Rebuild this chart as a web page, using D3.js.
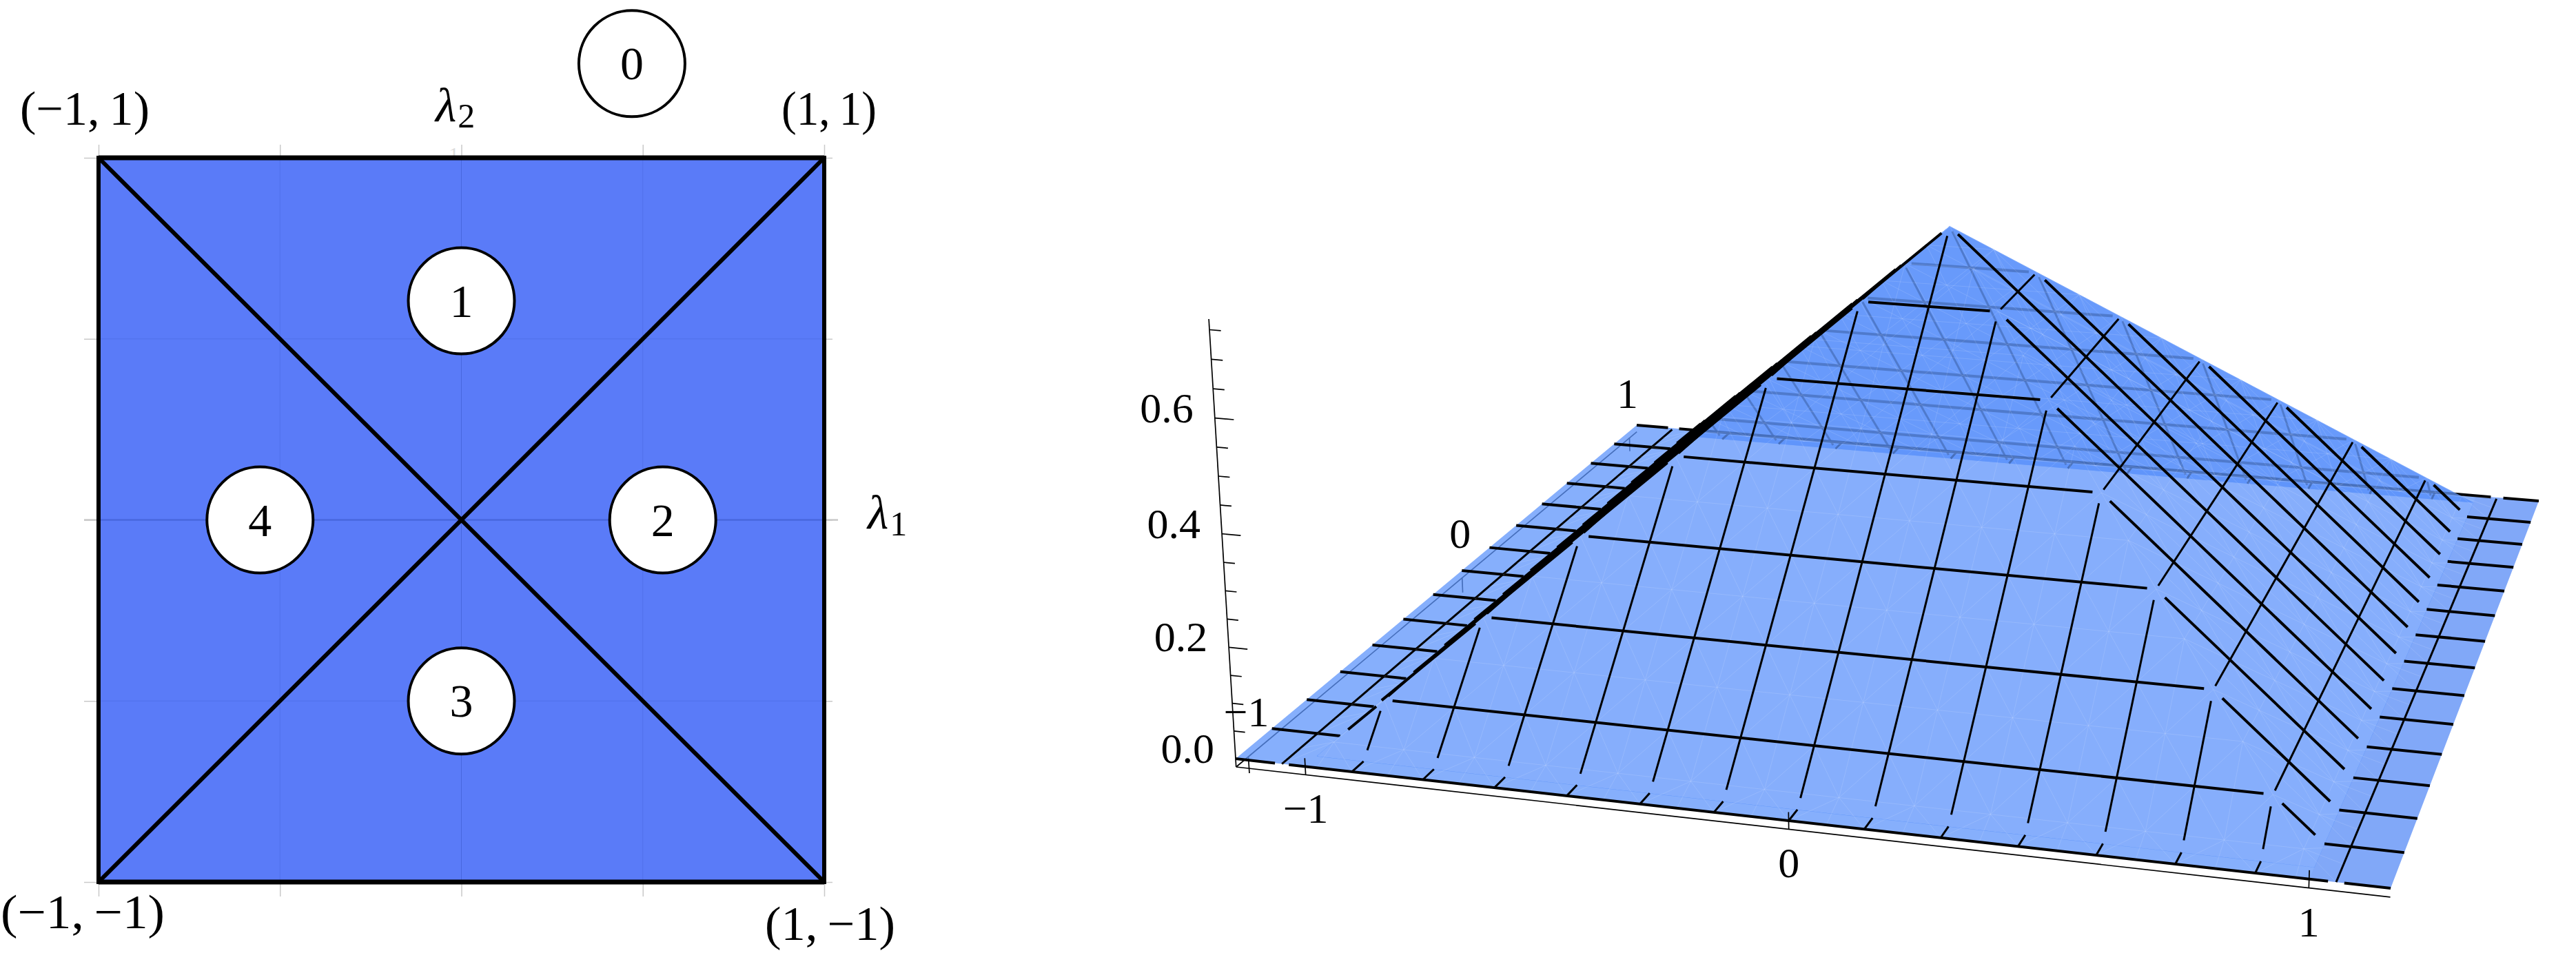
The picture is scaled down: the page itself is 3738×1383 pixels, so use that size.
<!DOCTYPE html>
<html>
<head>
<meta charset="utf-8">
<script src="https://cdn.jsdelivr.net/npm/d3@7"></script>
<style>
    body { margin: 0; background: white; }
    text { font-family: "Liberation Serif", serif; fill: black; }
</style>
</head>
<body>
<div id="chart"></div>
<script>
const width = 3738;
const height = 1383;

// left panel: regions of the square
const lambdaTicks = [-1, -0.5, 0, 0.5, 1];
const cornerL1 = [-1, 1, 1, -1];
const cornerL2 = [1, 1, -1, -1];
const regionIds = ["0", "1", "2", "3", "4"];
const regionL1 = [0.47, 0, 0.555, 0, -0.555];
const regionL2 = [1.26, 0.605, 0, -0.5, 0];

// right panel: surface
const meshValues = [-1.05, -0.9, -0.75, -0.6, -0.45, -0.3, -0.15, 0, 0.15, 0.3, 0.45, 0.6, 0.75, 0.9, 1.05];
const profileDistance = [0, 1, 1.15];
const profileHeight = [0.75, 0, 0];
const zTicks = [0, 0.05, 0.1, 0.15, 0.2, 0.25, 0.3, 0.35, 0.4, 0.45, 0.5, 0.55, 0.6, 0.65, 0.7, 0.75];
const zLabels = [0, 0.2, 0.4, 0.6];
const planTicks = [-1, 0, 1];

const svg = d3.select("#chart")
    .append("svg")
    .attr("width", width)
    .attr("height", height)
    .style("display", "block");

drawSquare();
drawSurface();

function drawSquare() {
    const x = d3.scaleLinear().domain([-1, 1]).range([143, 1196]);
    const y = d3.scaleLinear().domain([-1, 1]).range([1280, 229]);
    const g = svg.append("g");
    const tickColor = "#c9c9c9";

    g.append("text").attr("x", 651).attr("y", 234)
        .style("font-size", "30px").style("fill", "#dddddd").text("1");

    // ticks through the library axes
    const axes = [
        [d3.axisTop(x).tickSize(19), [0, y(1)]],
        [d3.axisBottom(x).tickSize(21), [0, y(-1)]],
        [d3.axisLeft(y).tickSize(21), [x(-1), 0]],
        [d3.axisRight(y).tickSize(12), [x(1), 0]]
    ];
    axes.forEach(a => {
        const ax = g.append("g")
            .attr("transform", "translate(" + a[1] + ")")
            .call(a[0].tickValues(lambdaTicks).tickFormat(""));
        ax.select(".domain").remove();
        ax.selectAll("line").attr("stroke", tickColor).attr("stroke-width", 1.5);
    });
    g.append("line").attr("x1", x(1)).attr("x2", x(1) + 20).attr("y1", y(0)).attr("y2", y(0))
        .attr("stroke", tickColor).attr("stroke-width", 2.5);
    g.append("line").attr("x1", x(-1) - 21).attr("x2", x(-1)).attr("y1", y(0)).attr("y2", y(0))
        .attr("stroke", tickColor).attr("stroke-width", 2.5);

    const corners = cornerL1.map((d, i) => [x(d), y(cornerL2[i])]);
    g.append("path")
        .attr("d", "M" + corners.join("L") + "Z")
        .attr("fill", "#5a7bf8");

    lambdaTicks.forEach(v => {
        const w = v === 0 ? "rgba(50,80,190,0.45)" : "rgba(50,80,190,0.22)";
        g.append("line").attr("x1", x(v)).attr("x2", x(v)).attr("y1", y(-1)).attr("y2", y(1))
            .attr("stroke", w).attr("stroke-width", 1);
        g.append("line").attr("x1", x(-1)).attr("x2", x(1)).attr("y1", y(v)).attr("y2", y(v))
            .attr("stroke", w).attr("stroke-width", v === 0 ? 2.5 : 1);
    });

    g.append("path")
        .attr("d", "M" + corners.join("L") + "Z")
        .attr("fill", "none").attr("stroke", "black").attr("stroke-width", 6);
    g.append("line").attr("x1", x(-1)).attr("x2", x(1)).attr("y1", y(1)).attr("y2", y(1))
        .attr("stroke", "black").attr("stroke-width", 7);
    g.append("line").attr("x1", x(-1)).attr("x2", x(1)).attr("y1", y(-1)).attr("y2", y(-1))
        .attr("stroke", "black").attr("stroke-width", 7);
    [[0, 2], [1, 3]].forEach(p => {
        g.append("line")
            .attr("x1", corners[p[0]][0]).attr("y1", corners[p[0]][1])
            .attr("x2", corners[p[1]][0]).attr("y2", corners[p[1]][1])
            .attr("stroke", "black").attr("stroke-width", 6);
    });

    regionIds.forEach((id, i) => {
        const cx = x(regionL1[i]);
        const cy = y(regionL2[i]);
        g.append("circle").attr("cx", cx).attr("cy", cy).attr("r", 77)
            .attr("fill", "white").attr("stroke", "black").attr("stroke-width", 4);
        g.append("text").attr("x", cx).attr("y", cy + 23)
            .attr("text-anchor", "middle").style("font-size", "68px").text(id);
    });

    // corner labels, stretched to the width of the math font
    const labels = [
        ["(\u22121,\u20091)", 29, 181, 188],
        ["(1,\u20091)", 1134, 181, 138],
        ["(\u22121,\u2009\u22121)", 1, 1347, 238],
        ["(1,\u2009\u22121)", 1110, 1364, 189]
    ];
    labels.forEach(l => {
        g.append("text").attr("x", l[1]).attr("y", l[2])
            .attr("textLength", l[3]).attr("lengthAdjust", "spacingAndGlyphs")
            .style("font-size", "70px").text(l[0]);
    });

    [["2", 632, 176, 185], ["1", 1259, 767, 777]].forEach(l => {
        const t = g.append("text").attr("x", l[1]).attr("y", l[2]).style("font-size", "70px");
        t.append("tspan").style("font-style", "italic").text("\u03bb");
        t.append("tspan").attr("dy", l[3] - l[2]).attr("dx", 2).style("font-size", "50px").text(l[0]);
    });
}

function fitHomography(A, B, C, D) {
    // unit square -> screen quad
    const dx1 = B[0] - C[0], dx2 = D[0] - C[0], sx = A[0] - B[0] + C[0] - D[0];
    const dy1 = B[1] - C[1], dy2 = D[1] - C[1], sy = A[1] - B[1] + C[1] - D[1];
    const det = dx1 * dy2 - dx2 * dy1;
    const g = (sx * dy2 - dx2 * sy) / det;
    const h = (dx1 * sy - sx * dy1) / det;
    return {
        a: B[0] - A[0] + g * B[0], b: D[0] - A[0] + h * D[0], c: A[0],
        d: B[1] - A[1] + g * B[1], e: D[1] - A[1] + h * D[1], f: A[1],
        g: g, h: h
    };
}

function drawSurface() {
    const xLimit = 1.15, yLimit = 1.05, axisZ = -0.015;
    const H = fitHomography([1793, 1101], [3469, 1289], [3684, 727], [2375, 617]);
    const zPull = -0.0471, zVanish = [2830, 18100];
    const sScale = d3.scaleLinear().domain([-xLimit, xLimit]).range([0, 1]);
    const tScale = d3.scaleLinear().domain([-yLimit, yLimit]).range([0, 1]);
    const heightAt = d3.scaleLinear().domain(profileDistance).range(profileHeight);
    const surf = (x, y) => heightAt(Math.max(Math.abs(x), Math.abs(y)));

    const project = (x, y, z) => {
        const s = sScale(x), t = tScale(y), q = z * zPull;
        const w = H.g * s + H.h * t + 1 + q;
        return [(H.a * s + H.b * t + H.c + q * zVanish[0]) / w,
                (H.d * s + H.e * t + H.f + q * zVanish[1]) / w];
    };
    const onSurf = p => project(p[0], p[1], surf(p[0], p[1]));
    const line = d3.line();

    const bottom = svg.append("g");
    const layerBack = svg.append("g");
    const layerBackLines = svg.append("g");
    const layerFront = svg.append("g");
    const layerTexture = svg.append("g");
    const layerLines = svg.append("g");
    const overlay = svg.append("g");

    const thin = (g, a, b) => g.append("path").attr("d", line([a, b]))
        .attr("stroke", "black").attr("stroke-width", 1.7).attr("fill", "none");

    // plan axes in the plane just below z = 0
    thin(bottom, project(-xLimit, -yLimit, axisZ), project(-xLimit, yLimit, axisZ));
    planTicks.forEach(v => {
        thin(bottom, project(-xLimit, v, axisZ), project(-xLimit, v, axisZ - 0.03));
    });
    thin(overlay, project(-xLimit, -yLimit, axisZ), project(xLimit, -yLimit, axisZ));
    planTicks.forEach(v => {
        thin(overlay, project(v, -yLimit, axisZ), project(v, -yLimit, axisZ + 0.03));
    });

    // height axis
    thin(overlay, project(-xLimit, -yLimit, axisZ), project(-xLimit, -yLimit, 0.768));
    zTicks.forEach(z => {
        const len = zLabels.indexOf(z) >= 0 ? 0.04 : 0.024;
        thin(overlay, project(-xLimit, -yLimit, z), project(-xLimit + len, -yLimit, z));
    });

    const polyD = pts => "M" + pts.join("L") + "Z";
    const surfaceColor = "#5e94fb";
    const quad = (x0, y0, x1, y1) => [[x0, y0], [x1, y0], [x1, y1], [x0, y1]];

    // flat ring and the hidden faces
    layerBack.append("path")
        .attr("d", polyD(quad(-xLimit, -yLimit, xLimit, yLimit).map(onSurf)) + polyD(quad(-1, -1, 1, 1).map(onSurf)))
        .attr("fill-rule", "evenodd")
        .attr("fill", surfaceColor).attr("opacity", 0.75);
    layerBack.append("path")
        .attr("d", polyD(quad(1, -yLimit, xLimit, yLimit).map(onSurf)))
        .attr("fill", "#5f7fe0").attr("opacity", 0.12);
    layerBack.append("path")
        .attr("d", polyD([[-1, 1], [1, 1], [0, 0]].map(onSurf)))
        .attr("fill", surfaceColor).attr("opacity", 0.75);

    // front faces share one group opacity so the ridge leaves no seam
    const front = layerFront.append("g").attr("opacity", 0.75);
    [[[-1, -1], [1, -1], [0, 0]], [[1, -1], [1, 1], [0, 0]], [[-1, -1], [-1, 1], [0, 0]]].forEach(f => {
        front.append("path").attr("d", polyD(f.map(onSurf)))
            .attr("fill", surfaceColor).attr("stroke", surfaceColor).attr("stroke-width", 1);
    });

    // faint triangulation, one star per mesh cell
    const cells = meshValues.slice(0, -1);
    cells.forEach(cx => cells.forEach(cy => {
        const m = 0.075;
        const c = [cx + m, cy + m];
        d3.range(8).forEach(k => {
            const off = [[0, 0], [m, 0], [2 * m, 0], [2 * m, m], [2 * m, 2 * m], [m, 2 * m], [0, 2 * m], [0, m]][k];
            const p = [cx + off[0], cy + off[1]];
            layerTexture.append("path").attr("d", line([onSurf(c), onSurf(p)]))
                .attr("stroke", "white").attr("stroke-opacity", 0.13).attr("stroke-width", 1);
        });
    }));

    // mesh lines, cut at the kinks like the sampled original
    const layerFor = back => back ? layerBackLines : layerLines;
    const addPiece = (fixed, a, b, isY) => {
        const m = (a + b) / 2;
        const mx = isY ? m : fixed;
        const my = isY ? fixed : m;
        const r = Math.max(Math.abs(mx), Math.abs(my));
        const flat = r >= 1;
        const trim = flat ? 0 : 0.018;
        const pa = a + trim, pb = b - trim;
        if (pb <= pa) return;
        const pt = v => isY ? [v, fixed] : [fixed, v];
        const isBack = flat ? (my > 1 || mx < -1) : (my > Math.abs(mx));
        layerFor(isBack).append("path")
            .attr("d", line([onSurf(pt(pa)), onSurf(pt(pb))]))
            .attr("stroke", "black").attr("fill", "none")
            .attr("stroke-opacity", isBack && !flat ? 0.75 : 1)
            .attr("stroke-width", isY ? 4 : 3);
    };

    meshValues.forEach(c => {
        const ac = Math.abs(c);
        // lines of constant lambda_1, running along lambda_2
        let stops = ac < 1 ? [-yLimit, -1, -ac, ac, 1, yLimit] : [-yLimit, yLimit - 0.01];
        stops = stops.filter((d, i) => i === 0 || d !== stops[i - 1]);
        d3.pairs(stops).forEach(p => addPiece(c, p[0], p[1], false));
        // lines of constant lambda_2, running along lambda_1
        stops = ac < 1 ? [-xLimit, -1, -ac, ac, 1, xLimit] : [-xLimit, -1.065, -1.035, 1.035, 1.065, xLimit];
        stops = stops.filter((d, i) => i === 0 || d !== stops[i - 1]);
        d3.pairs(stops).forEach((p, i) => {
            if (ac >= 1 && i % 2 === 1 && i !== 2) return;
            addPiece(c, p[0], p[1], true);
        });
    });

    // tick labels
    const fontSize = "62px";
    zLabels.forEach(z => {
        const p = project(-xLimit, -yLimit, z);
        overlay.append("text").attr("x", p[0] - 31).attr("y", p[1] + 6)
            .attr("text-anchor", "end").style("font-size", fontSize).text(z.toFixed(1));
    });
    const fmt = v => v < 0 ? "\u2212" + Math.abs(v) : String(v);
    planTicks.forEach(v => {
        const p = project(v, -yLimit, axisZ);
        overlay.append("text").attr("x", p[0]).attr("y", p[1] + 70)
            .attr("text-anchor", "middle").style("font-size", fontSize).text(fmt(v));
        const q = project(-xLimit, v, axisZ);
        overlay.append("text").attr("x", q[0] - 3).attr("y", q[1] - 44)
            .attr("text-anchor", "middle").style("font-size", fontSize).text(fmt(v));
    });
}
</script>
</body>
</html>
